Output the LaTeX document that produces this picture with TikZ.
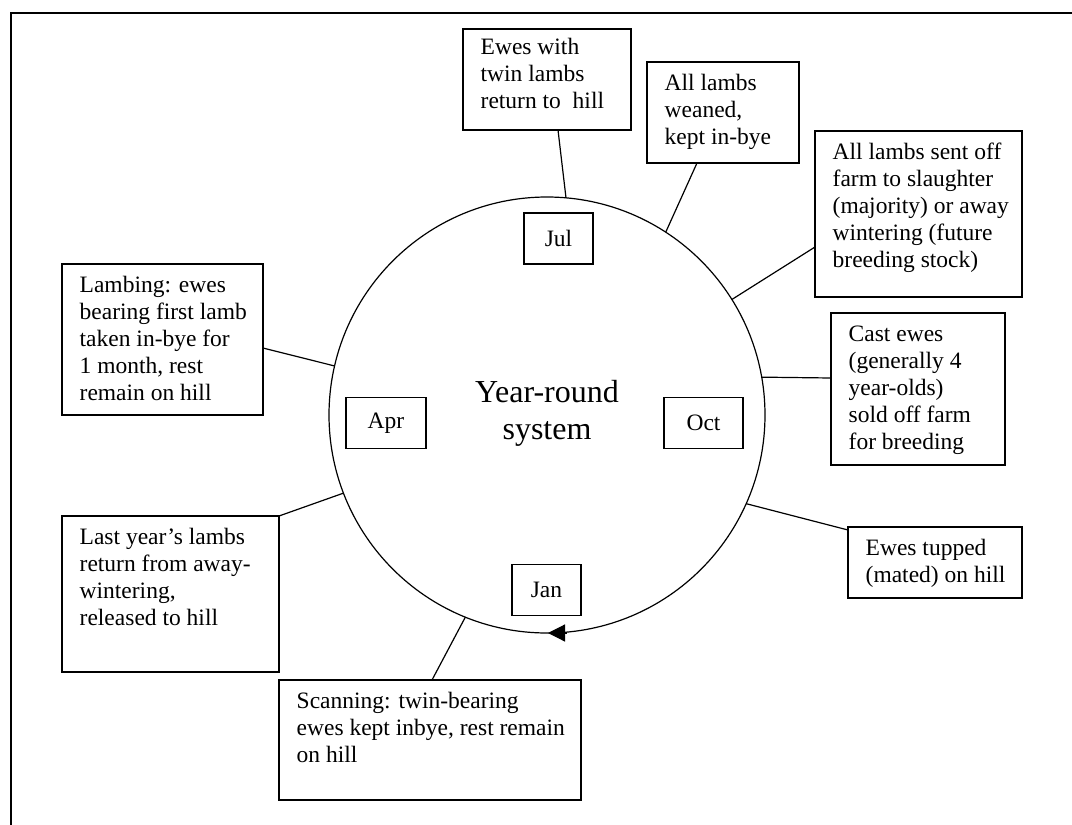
\documentclass[tikz,border=0pt]{standalone}
\usepackage{fontspec}
\setmainfont{Liberation Serif}
\usetikzlibrary{calc,arrows.meta}
\begin{document}
\begin{tikzpicture}[x=1pt,y=-1pt,
  boxst/.style={draw, line width=1.3pt, rectangle, inner sep=0pt, outer sep=0pt, anchor=north west},
  txt/.style={anchor=north west, inner sep=0pt, align=left, font=\fontsize{23.5}{27}\selectfont},
  mon/.style={draw, line width=1.3pt, inner sep=0pt, outer sep=0pt, minimum height=51pt, font=\fontsize{23.5}{27}\selectfont},
  link/.style={line width=1.2pt}]
\useasboundingbox (0,0) rectangle (1072,825);
% frame
\draw[line width=2pt] (11,830) -- (11,12.5) -- (1080,12.5);
% cycle
\node[draw, circle, line width=1.2pt, minimum size=436pt, inner sep=0pt, outer sep=0pt] (cyc) at (547,415) {};
\draw[line width=1.2pt, -{Triangle[length=17pt,width=17pt]}] ($(cyc.south)+(20,0)$) -- ($(cyc.south)+(1,0)$);
% title
\node[anchor=north, inner sep=0pt, align=center, font=\fontsize{32}{37}\selectfont] (title) at (547,377) {\rule{0pt}{25pt}Year-round\\system};
% months
\node[mon, minimum width=69pt] (jul) at (558.5,238.5) {Jul};
\node[mon, minimum width=80pt] (apr) at (386,423) {Apr};
\node[mon, minimum width=79pt] (oct) at (703.5,423) {Oct};
\node[mon, minimum width=69pt] (jan) at (546.5,590) {Jan};
% boxes
\node[boxst, minimum width=168pt, minimum height=101pt] (b1) at (463,29) {};
\node[txt] (t1) at ($(b1.north west)+(17.5,7)$) {\rule{0pt}{18pt}Ewes with\\twin lambs\\return to~ hill};
\node[boxst, minimum width=152pt, minimum height=101pt] (b2) at (647,62) {};
\node[txt] (t2) at ($(b2.north west)+(17.5,10)$) {\rule{0pt}{18pt}All lambs\\weaned,\\kept in-bye};
\node[boxst, minimum width=207pt, minimum height=166pt] (b3) at (815,131) {};
\node[txt] (t3) at ($(b3.north west)+(17.5,10)$) {\rule{0pt}{18pt}All lambs sent off\\farm to slaughter\\(majority) or away\\wintering (future\\breeding stock)};
\node[boxst, minimum width=174pt, minimum height=152pt] (b4) at (831,313) {};
\node[txt] (t4) at ($(b4.north west)+(17.5,10)$) {\rule{0pt}{18pt}Cast ewes\\(generally 4\\year-olds)\\sold off farm\\for breeding};
\node[boxst, minimum width=174pt, minimum height=71pt] (b5) at (848,527) {};
\node[txt] (t5) at ($(b5.north west)+(17.5,10)$) {\rule{0pt}{18pt}Ewes tupped\\(mated) on hill};
\node[boxst, minimum width=302pt, minimum height=120pt] (b6) at (279,680) {};
\node[txt] (t6) at ($(b6.north west)+(17.5,10)$) {\rule{0pt}{18pt}Scanning: twin-bearing\\ewes kept inbye, rest remain\\on hill};
\node[boxst, minimum width=217pt, minimum height=156pt] (b7) at (62,516) {};
\node[txt] (t7) at ($(b7.north west)+(17.5,10)$) {\rule{0pt}{18pt}Last year’s lambs\\return from away-\\wintering,\\released to hill};
\node[boxst, minimum width=201pt, minimum height=151pt] (b8) at (62,264) {};
\node[txt] (t8) at ($(b8.north west)+(17.5,10)$) {\rule{0pt}{18pt}Lambing: ewes\\bearing first lamb\\taken in-bye for\\1 month, rest\\remain on hill};
% connectors
\draw[link] ($(b1.south west)+(95,0)$) -- (cyc.85.8);
\draw[link] ($(b2.south west)+(50,0)$) -- (cyc.57.7);
\draw[link] ($(b3.north west)+(0,116)$) -- (cyc.32.5);
\draw[link] ($(b4.north west)+(0,65)$) -- (cyc.10);
\draw[link] ($(b5.north west)+(0,3)$) -- (cyc.-24);
\draw[link] ($(b6.north west)+(153,0)$) -- (cyc.-112.7);
\draw[link] (b7.north east) -- (cyc.201.9);
\draw[link] ($(b8.north east)+(0,84)$) -- (cyc.167);
\end{tikzpicture}
\end{document}
